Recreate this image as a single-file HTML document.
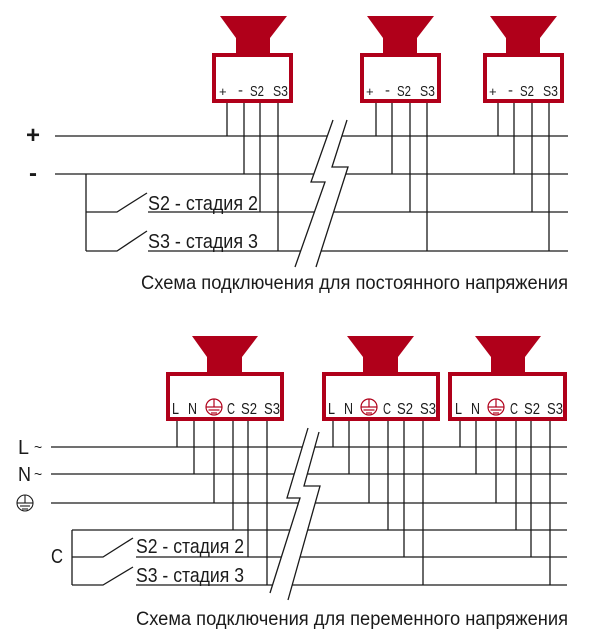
<!DOCTYPE html>
<html><head><meta charset="utf-8"><style>
html,body{margin:0;padding:0;background:#fff;}
svg{display:block;}
text{font-family:"Liberation Sans",sans-serif;fill:#1a1a1a;}
</style></head><body>
<svg width="610" height="644" viewBox="0 0 610 644" xmlns="http://www.w3.org/2000/svg">
<g stroke="#1a1a1a" stroke-width="1.3" fill="none">
<line x1="55" y1="136" x2="568" y2="136"/>
<line x1="55" y1="174" x2="568" y2="174"/>
<line x1="148" y1="212" x2="568" y2="212"/>
<line x1="148" y1="251" x2="568" y2="251"/>
<polyline points="86,174 86,251"/>
<polyline points="86,212 117,212 147,193"/>
<polyline points="86,251 117,251 147,231"/>
<line x1="227" y1="103" x2="227" y2="136"/><line x1="244" y1="103" x2="244" y2="174"/><line x1="260" y1="103" x2="260" y2="212"/><line x1="278" y1="103" x2="278" y2="251"/>
<line x1="376" y1="103" x2="376" y2="136"/><line x1="392" y1="103" x2="392" y2="174"/><line x1="410" y1="103" x2="410" y2="212"/><line x1="427" y1="103" x2="427" y2="251"/>
<line x1="498" y1="103" x2="498" y2="136"/><line x1="514" y1="103" x2="514" y2="174"/><line x1="532" y1="103" x2="532" y2="212"/><line x1="549" y1="103" x2="549" y2="251"/>
<line x1="51" y1="447" x2="567" y2="447"/>
<line x1="51" y1="474" x2="567" y2="474"/>
<line x1="51" y1="503" x2="567" y2="503"/>
<line x1="72" y1="530" x2="567" y2="530"/>
<line x1="136" y1="557" x2="567" y2="557"/>
<line x1="136" y1="585" x2="567" y2="585"/>
<polyline points="72,530 72,585"/>
<polyline points="72,557 103,557 133,538"/>
<polyline points="72,585 103,585 133,567"/>
<line x1="177" y1="421" x2="177" y2="447"/><line x1="194" y1="421" x2="194" y2="474"/><line x1="214" y1="421" x2="214" y2="503"/><line x1="233" y1="421" x2="233" y2="530"/><line x1="248" y1="421" x2="248" y2="557"/><line x1="267" y1="421" x2="267" y2="585"/>
<line x1="333" y1="421" x2="333" y2="447"/><line x1="349" y1="421" x2="349" y2="474"/><line x1="369" y1="421" x2="369" y2="503"/><line x1="388" y1="421" x2="388" y2="530"/><line x1="404" y1="421" x2="404" y2="557"/><line x1="423" y1="421" x2="423" y2="585"/>
<line x1="460" y1="421" x2="460" y2="447"/><line x1="476" y1="421" x2="476" y2="474"/><line x1="496" y1="421" x2="496" y2="503"/><line x1="516" y1="421" x2="516" y2="530"/><line x1="531" y1="421" x2="531" y2="557"/><line x1="550" y1="421" x2="550" y2="585"/>
</g>
<polygon points="333,120 311,182 325,182 295,267 316,267 348,167 332,167 347,120" fill="#fff"/>
<g stroke="#1a1a1a" stroke-width="1.3" fill="none">
<polyline points="333,120 311,182 325,182 295,267"/>
<polyline points="347,120 332,167 348,167 316,267"/>
</g>
<polygon points="308,428 287,498 300,498 270,593 288,600 320,486 304,486 319,432" fill="#fff"/>
<g stroke="#1a1a1a" stroke-width="1.3" fill="none">
<polyline points="308,428 287,498 300,498 270,593"/>
<polyline points="319,432 304,486 320,486 288,600"/>
</g>
<g fill="#b0001a">
<polygon points="220,16 287,16 270,38 270,55 236,55 236,38"/>
<polygon points="367,16 434,16 417,38 417,55 383,55 383,38"/>
<polygon points="490,16 557,16 540,38 540,55 506,55 506,38"/>
<polygon points="192,336 258,336 242,357 242,374 207,374 207,357"/>
<polygon points="347,336 414,336 398,357 398,374 363,374 363,357"/>
<polygon points="475,336 541,336 525,357 525,374 491,374 491,357"/>
</g>
<g fill="#fff" stroke="#b0001a" stroke-width="4">
<rect x="214" y="55" width="77" height="46"/>
<rect x="362" y="55" width="77" height="46"/>
<rect x="485" y="55" width="77" height="46"/>
<rect x="168" y="374" width="114" height="45"/>
<rect x="324" y="374" width="114" height="45"/>
<rect x="450" y="374" width="115" height="45"/>
</g>
<g font-size="15">
<g>
<text x="219" y="96" font-size="13">+</text><text x="238" y="95">-</text><text x="250" y="96" textLength="14" lengthAdjust="spacingAndGlyphs">S2</text><text x="273" y="96" textLength="15" lengthAdjust="spacingAndGlyphs">S3</text>
</g>
<g transform="translate(147,0)">
<text x="219" y="96" font-size="13">+</text><text x="238" y="95">-</text><text x="250" y="96" textLength="14" lengthAdjust="spacingAndGlyphs">S2</text><text x="273" y="96" textLength="15" lengthAdjust="spacingAndGlyphs">S3</text>
</g>
<g transform="translate(270,0)">
<text x="219" y="96" font-size="13">+</text><text x="238" y="95">-</text><text x="250" y="96" textLength="14" lengthAdjust="spacingAndGlyphs">S2</text><text x="273" y="96" textLength="15" lengthAdjust="spacingAndGlyphs">S3</text>
</g>
</g>
<g font-size="16">
<g>
<text x="172" y="414" textLength="7" lengthAdjust="spacingAndGlyphs">L</text><text x="188" y="414" textLength="9" lengthAdjust="spacingAndGlyphs">N</text><text x="227" y="414" textLength="8" lengthAdjust="spacingAndGlyphs">C</text><text x="241" y="414" textLength="16" lengthAdjust="spacingAndGlyphs">S2</text><text x="264" y="414" textLength="16" lengthAdjust="spacingAndGlyphs">S3</text>
</g>
<g transform="translate(156,0)">
<text x="172" y="414" textLength="7" lengthAdjust="spacingAndGlyphs">L</text><text x="188" y="414" textLength="9" lengthAdjust="spacingAndGlyphs">N</text><text x="227" y="414" textLength="8" lengthAdjust="spacingAndGlyphs">C</text><text x="241" y="414" textLength="16" lengthAdjust="spacingAndGlyphs">S2</text><text x="264" y="414" textLength="16" lengthAdjust="spacingAndGlyphs">S3</text>
</g>
<g transform="translate(283,0)">
<text x="172" y="414" textLength="7" lengthAdjust="spacingAndGlyphs">L</text><text x="188" y="414" textLength="9" lengthAdjust="spacingAndGlyphs">N</text><text x="227" y="414" textLength="8" lengthAdjust="spacingAndGlyphs">C</text><text x="241" y="414" textLength="16" lengthAdjust="spacingAndGlyphs">S2</text><text x="264" y="414" textLength="16" lengthAdjust="spacingAndGlyphs">S3</text>
</g>
</g>
<g stroke="#b0001a" stroke-width="1.2" fill="none">
<g><circle cx="214" cy="407" r="8"/><line x1="214" y1="399" x2="214" y2="407"/><line x1="206" y1="407" x2="222" y2="407"/><line x1="208.5" y1="410" x2="219.5" y2="410"/><line x1="211" y1="413" x2="217" y2="413"/></g>
<g transform="translate(155,0)"><circle cx="214" cy="407" r="8"/><line x1="214" y1="399" x2="214" y2="407"/><line x1="206" y1="407" x2="222" y2="407"/><line x1="208.5" y1="410" x2="219.5" y2="410"/><line x1="211" y1="413" x2="217" y2="413"/></g>
<g transform="translate(282,0)"><circle cx="214" cy="407" r="8"/><line x1="214" y1="399" x2="214" y2="407"/><line x1="206" y1="407" x2="222" y2="407"/><line x1="208.5" y1="410" x2="219.5" y2="410"/><line x1="211" y1="413" x2="217" y2="413"/></g>
</g>
<g stroke="#1a1a1a" stroke-width="1.1" fill="none">
<circle cx="25" cy="503" r="8"/><line x1="25" y1="495" x2="25" y2="503"/><line x1="17" y1="503" x2="33" y2="503"/><line x1="20" y1="506" x2="30" y2="506"/><line x1="22" y1="509" x2="28" y2="509"/>
</g>
<text x="26" y="143" font-size="24" font-weight="bold">+</text>
<text x="29" y="181" font-size="24" font-weight="bold">-</text>
<text x="18" y="454" font-size="20" textLength="11" lengthAdjust="spacingAndGlyphs">L</text><text x="34" y="452" font-size="14">~</text>
<text x="18" y="481" font-size="20" textLength="13" lengthAdjust="spacingAndGlyphs">N</text><text x="34" y="479" font-size="14">~</text>
<text x="51" y="563" font-size="20" textLength="12" lengthAdjust="spacingAndGlyphs">C</text>
<g font-size="20">
<text x="148" y="210" textLength="110" lengthAdjust="spacingAndGlyphs">S2 - стадия 2</text>
<text x="148" y="248" textLength="110" lengthAdjust="spacingAndGlyphs">S3 - стадия 3</text>
<text x="136" y="553" textLength="108" lengthAdjust="spacingAndGlyphs">S2 - стадия 2</text>
<text x="136" y="582" textLength="108" lengthAdjust="spacingAndGlyphs">S3 - стадия 3</text>
</g>
<g font-size="19">
<text x="141" y="289" textLength="427" lengthAdjust="spacingAndGlyphs">Схема подключения для постоянного напряжения</text>
<text x="136" y="625" textLength="432" lengthAdjust="spacingAndGlyphs">Схема подключения для переменного напряжения</text>
</g>
</svg>
</body></html>
